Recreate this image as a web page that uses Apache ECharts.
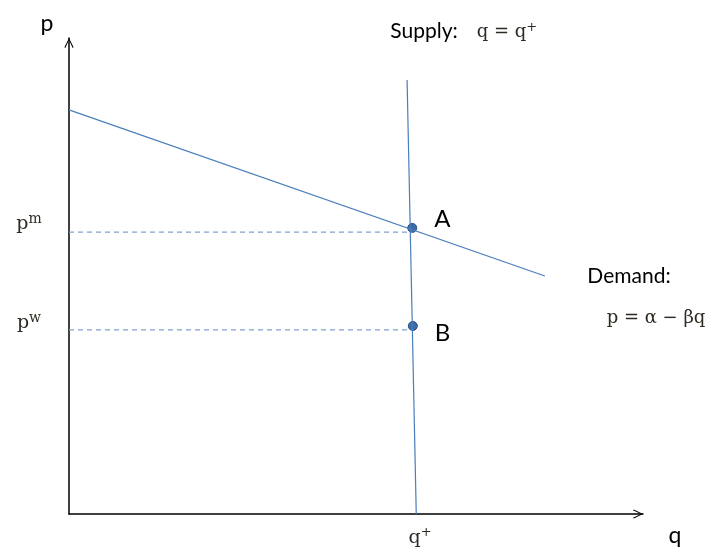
<!DOCTYPE html>
<html>
<head>
<meta charset="utf-8">
<script src="https://cdn.jsdelivr.net/npm/echarts@6/dist/echarts.min.js"></script>
<style>
  html, body { margin: 0; padding: 0; background: #fff; }
  #main { width: 712px; height: 555px; }
</style>
</head>
<body>
<div id="main"></div>
<script>
// axes run 0..100 in both directions (q right, p up)
var demandLine = [[0, 84.9], [82.9, 50.0]];
var supplyLine = [[58.9, 91.2], [60.5, 0]];
var pmLine = [[0, 59.2], [59.8, 59.2]];
var pwLine = [[0, 38.7], [59.9, 38.7]];
var pointNames = ['A', 'B'];
var pointValues = [[59.8, 60.1], [59.9, 39.5]];

var blue = '#4a7ebb';
var ink = '#2e2a22';
var serif = '"DejaVu Serif", "Liberation Serif", serif';
var sans = 'Lato, "Open Sans", sans-serif';
var chevron = 'path://M0,10 L5,0 L10,10 L9,10.9 L5,2.3 L1,10.9 Z';

var chart = echarts.init(document.getElementById('main'));

function axisLineStyle() {
    return {
        show: true,
        symbol: ['none', chevron],
        symbolSize: [11, 10],
        symbolOffset: [0, -5],
        lineStyle: { color: '#000', width: 1.5 }
    };
}

// math text with a superscript, e.g. p^m
function supText(x, y, base, sup, size, supSize) {
    return {
        type: 'text', x: x, y: y,
        style: {
            text: '{b|' + base + '}{s|' + sup + '}', fill: ink, align: 'center', verticalAlign: 'middle',
            rich: {
                b: { fontFamily: serif, fontSize: size, lineHeight: size + 4, fill: ink },
                s: { fontFamily: serif, fontSize: supSize, verticalAlign: 'top', lineHeight: size + 4, fill: ink }
            }
        }
    };
}

var option = {
    animation: false,
    grid: { left: 69, right: 69, top: 38, bottom: 41 },
    xAxis: {
        type: 'value', min: 0, max: 100,
        axisLine: axisLineStyle(),
        axisTick: { show: false }, axisLabel: { show: false }, splitLine: { show: false }
    },
    yAxis: {
        type: 'value', min: 0, max: 100,
        axisLine: axisLineStyle(),
        axisTick: { show: false }, axisLabel: { show: false }, splitLine: { show: false }
    },
    series: [{
        name: 'pm', type: 'line', data: pmLine, symbol: 'none',
        lineStyle: { color: '#7ea2d3', width: 1.2, type: [5, 4] }
    }, {
        name: 'pw', type: 'line', data: pwLine, symbol: 'none',
        lineStyle: { color: '#7ea2d3', width: 1.2, type: [5, 4] }
    }, {
        name: 'demand', type: 'line', data: demandLine, symbol: 'none',
        lineStyle: { color: blue, width: 1.2 }
    }, {
        name: 'supply', type: 'line', data: supplyLine, symbol: 'none',
        lineStyle: { color: blue, width: 1.2 }
    }, {
        name: 'points', type: 'scatter', symbolSize: 9,
        data: pointValues.map(function (v, i) {
            return { name: pointNames[i], value: v, label: { offset: [0, i === 0 ? -9 : 7] } };
        }),
        itemStyle: { color: '#3c6aa8', borderColor: '#2a4d7e', borderWidth: 1, opacity: 1 },
        label: {
            show: true, position: 'right', distance: 17,
            formatter: '{b}', color: '#000', fontFamily: sans, fontSize: 24
        }
    }],
    graphic: [
        { type: 'text', x: 47, y: 24, style: { text: 'p', font: '23px ' + sans, fill: '#000', align: 'center', verticalAlign: 'middle' } },
        { type: 'text', x: 675, y: 536, style: { text: 'q', font: '23px ' + sans, fill: '#000', align: 'center', verticalAlign: 'middle' } },
        { type: 'text', x: 424, y: 31, style: { text: 'Supply:', font: '21px ' + sans, fill: '#000', align: 'center', verticalAlign: 'middle' } },
        supText(507, 32, 'q = q', '+', 18, 13),
        { type: 'text', x: 629, y: 276, style: { text: 'Demand:', font: '21px ' + sans, fill: '#000', align: 'center', verticalAlign: 'middle' } },
        { type: 'text', x: 656, y: 318, style: { text: 'p = α − βq', font: '18px ' + serif, fill: ink, align: 'center', verticalAlign: 'middle' } },
        supText(29, 224, 'p', 'm', 19, 14),
        supText(29, 323, 'p', 'w', 19, 14),
        supText(420, 538, 'q', '+', 19, 13)
    ]
};

chart.setOption(option);
</script>
</body>
</html>
